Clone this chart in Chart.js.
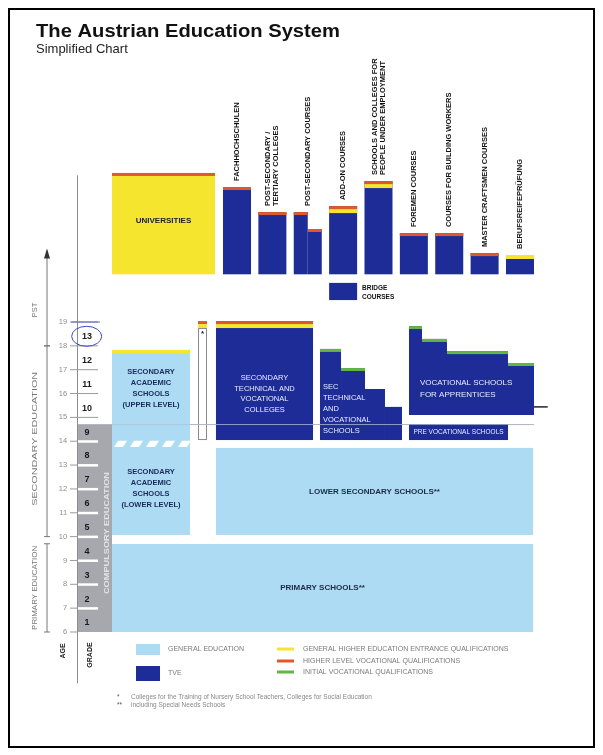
<!DOCTYPE html>
<html>
<head>
<meta charset="utf-8">
<script src="https://cdn.jsdelivr.net/npm/chart.js@4.4.1/dist/chart.umd.min.js"></script>
<style>
  html, body { margin: 0; padding: 0; background: #fff; }
  #wrap { position: relative; width: 603px; height: 755px; }
  #frame { position: absolute; left: 8px; top: 8px; width: 583px; height: 736px; border: 2px solid #000; pointer-events: none; }
  canvas { position: absolute; left: 0; top: 0; }
</style>
</head>
<body>
<div id="wrap">
  <canvas id="edu" width="603" height="755"></canvas>
  <div id="frame"></div>
</div>
<script>
// ---- data (ages; above 19 the age scale just carries on for PST) ----
const ageTicks = [6, 7, 8, 9, 10, 11, 12, 13, 14, 15, 16, 17, 18, 19];
const gradeLabels = ['1', '2', '3', '4', '5', '6', '7', '8', '9', '10', '11', '12', '13'];
const gradeStartAge = [6, 7, 8, 9, 10, 11, 12, 13, 14, 15, 16, 17, 18];
const compulsoryAges = [6, 14.7];
const stageNames = ['PST', 'SECONDARY EDUCATION', 'PRIMARY EDUCATION'];
const stageAges = [[18, 22], [10, 18], [6, 9.7]];

const pstNames = [
  ['FACHHOCHSCHULEN'],
  ['POST-SECONDARY /', 'TERTIARY COLLEGES'],
  ['POST-SECONDARY COURSES'],
  ['ADD-ON COURSES'],
  ['SCHOOLS AND COLLEGES FOR', 'PEOPLE UNDER EMPLOYMENT'],
  ['FOREMEN COURSES'],
  ['COURSES FOR BUILDING WORKERS'],
  ['MASTER CRAFTSMEN COURSES'],
  ['BERUFSREIFEPRÜFUNG']
];
const pstTop = [24.66, 23.61, 23.61, 23.86, 24.91, 22.73, 22.73, 21.89, 21.81];
const pstSplitTop = [null, null, 22.9, null, null, null, null, null, null];
const pstQuals = [['HL'], ['HL'], ['HL'], ['HL', 'GH'], ['HL', 'GH'], ['HL'], ['HL'], ['HL'], ['GH']];
const pstBase = 21.0;
const universityAges = [21.0, 25.25];
const bridgeAges = [19.92, 20.64];

const academicAges = [10.07, 17.83];
const academicBreak = [13.76, 14.02];
const nurseryAges = [14.05, 19.04];
const tveCollegeAges = [14.05, 19.04];
const tveSchoolTops = [17.87, 17.07, 16.19, 15.44];
const tveSchoolGreen = [true, true, false, false];
const tveSchoolBase = 14.05;
const apprenticeTops = [18.83, 18.29, 17.78, 17.28];
const apprenticeBase = 15.1;
const preVocAges = [14.05, 14.72];
const lowerSecAges = [10.07, 13.72];
const primaryAges = [6.0, 9.69];

const legendBoxes = ['GENERAL EDUCATION', 'TVE'];
const legendLines = ['GENERAL HIGHER EDUCATION ENTRANCE QUALIFICATIONS', 'HIGHER LEVEL VOCATIONAL QUALIFICATIONS', 'INITIAL VOCATIONAL QUALIFICATIONS'];
const footnotes = [['*', 'Colleges for the Training of Nursery School Teachers, Colleges for Social Education'], ['**', 'including Special Needs Schools']];

// ---- layout & style ----
const TVE = '#1e2c98', GEN = '#acdbf3', YEL = '#f6e52f', ORG = '#df5a2a', GRN = '#62b646', GREY = '#a7a7ae';
const QUAL = { GH: [YEL, 4], HL: [ORG, 3], IV: [GRN, 3] };
const SANS = '"Liberation Sans", Arial, sans-serif';
// x is in lane units, 0 = grade column edge, 100 = right edge of the scheme
const col = {
  grade: [0, 7.46], gradeGap: 4.4, comp: [4.82, 7.46],
  uni: [7.46, 30.04], pst0: 31.8, pstStep: 7.757, pstW: 6.14,
  academic: [7.46, 24.56], nursery: [26.32, 28.29], tveCollege: [30.26, 51.54],
  tveSchool: [53.07, 57.68, 62.94, 67.32, 71.05],
  apprentice: [72.59, 75.44, 80.92, 94.3, 100],
  preVoc: [72.59, 94.3], lowerSec: [30.26, 99.8], primary: [7.46, 99.8]
};

function txt(ctx, s, x, y, font, color, align, base, rot, fitW) {
  ctx.save();
  ctx.translate(x, y);
  if (rot) ctx.rotate(rot);
  ctx.font = font;
  ctx.fillStyle = color;
  ctx.textAlign = align || 'left';
  ctx.textBaseline = base || 'middle';
  if (fitW) ctx.scale(fitW / ctx.measureText(s).width, 1);
  ctx.fillText(s, 0, 0);
  ctx.restore();
}

const schemePlugin = {
  id: 'scheme',
  afterDraw(chart) {
    const ctx = chart.ctx;
    const X = v => chart.scales.x.getPixelForValue(v);
    const Y = v => chart.scales.y.getPixelForValue(v);
    const box = (u0, u1, a0, a1, c) => { ctx.fillStyle = c; ctx.fillRect(X(u0), Y(a1), X(u1) - X(u0), Y(a0) - Y(a1)); };
    const quals = (u0, u1, aTop, list) => {
      let y = Y(aTop);
      list.forEach(q => { ctx.fillStyle = QUAL[q][0]; ctx.fillRect(X(u0), y, X(u1) - X(u0), QUAL[q][1]); y += QUAL[q][1]; });
    };
    const hline = (u0, u1, a, c, w) => { ctx.strokeStyle = c; ctx.lineWidth = w || 1; ctx.beginPath(); ctx.moveTo(X(u0), Y(a)); ctx.lineTo(X(u1), Y(a)); ctx.stroke(); };

    // title
    txt(ctx, 'The Austrian Education System', 36, 37, 'bold 18px ' + SANS, '#111', 'left', 'alphabetic', 0, 304);
    txt(ctx, 'Simplified Chart', 36, 53, '13px ' + SANS, '#222', 'left', 'alphabetic');

    // axis line
    ctx.strokeStyle = '#8c8c8c'; ctx.lineWidth = 1;
    ctx.beginPath(); ctx.moveTo(X(0) - 0.5, Y(25.15)); ctx.lineTo(X(0) - 0.5, Y(3.85)); ctx.stroke();

    // grade column with compulsory education strip
    box(col.grade[0], col.grade[1], compulsoryAges[0], compulsoryAges[1], GREY);
    ageTicks.forEach(a => {
      if (a > compulsoryAges[0] && a < compulsoryAges[1]) {
        ctx.fillStyle = '#fff';
        ctx.fillRect(X(col.grade[0]), Y(a) - 1, X(col.gradeGap) - X(col.grade[0]), 2.5);
        hline(-1.75, 0, a, '#9a9a9a');
      } else if (a >= 15) {
        hline(-1.75, col.gradeGap, a, '#9a9a9a');
      } else {
        hline(-1.75, 0, a, '#9a9a9a');
      }
      txt(ctx, String(a), X(-2.4), Y(a), '7.5px ' + SANS, '#8d8d8d', 'right', 'middle');
    });
    gradeLabels.forEach((g, i) => {
      txt(ctx, g, X(1.97), Y(gradeStartAge[i] + 0.38), 'bold 9px ' + SANS, '#1a1a1a', 'center', 'middle');
    });
    txt(ctx, 'COMPULSORY EDUCATION', X((col.comp[0] + col.comp[1]) / 2) + 1, Y(10.15), 'bold 8px ' + SANS, '#e2e2e6', 'center', 'middle', -Math.PI / 2, 122);
    hline(0, 100, compulsoryAges[1], '#9ea3ad');

    // handwritten circle round grade 13
    ctx.strokeStyle = '#3b48c4'; ctx.lineWidth = 1;
    ctx.beginPath(); ctx.ellipse(X(1.9), Y(18.4), 15, 10, 0, 0, Math.PI * 2); ctx.stroke();
    hline(-1.5, 4.8, 19, '#5a64cc');

    // stage brackets
    const bx = 47, lx = 35;
    stageAges.forEach((r, i) => {
      ctx.strokeStyle = '#777'; ctx.lineWidth = 1;
      ctx.beginPath(); ctx.moveTo(bx, Y(r[0])); ctx.lineTo(bx, Y(r[1])); ctx.stroke();
      if (i === 0) {
        ctx.fillStyle = '#333';
        ctx.beginPath(); ctx.moveTo(bx, Y(r[1]) - 2); ctx.lineTo(bx - 3, Y(r[1]) + 8); ctx.lineTo(bx + 3, Y(r[1]) + 8); ctx.closePath(); ctx.fill();
        ctx.beginPath(); ctx.moveTo(bx - 3, Y(r[0])); ctx.lineTo(bx + 3, Y(r[0])); ctx.stroke();
      } else {
        ctx.beginPath(); ctx.moveTo(bx - 3, Y(r[0])); ctx.lineTo(bx + 3, Y(r[0])); ctx.moveTo(bx - 3, Y(r[1])); ctx.lineTo(bx + 3, Y(r[1])); ctx.stroke();
      }
    });
    txt(ctx, stageNames[0], lx, Y(19.5), '7.5px ' + SANS, '#777', 'center', 'middle', -Math.PI / 2);
    txt(ctx, stageNames[1], lx, Y(14.1), '7.5px ' + SANS, '#777', 'center', 'middle', -Math.PI / 2, 134);
    txt(ctx, stageNames[2], lx, Y(7.85), '7.5px ' + SANS, '#777', 'center', 'middle', -Math.PI / 2, 84);
    txt(ctx, 'AGE', 63, 651, 'bold 7px ' + SANS, '#222', 'center', 'middle', -Math.PI / 2);
    txt(ctx, 'GRADE', 90, 655, 'bold 7px ' + SANS, '#222', 'center', 'middle', -Math.PI / 2);

    // primary and lower secondary
    box(col.primary[0], col.primary[1], primaryAges[0], primaryAges[1], GEN);
    txt(ctx, 'PRIMARY SCHOOLS**', X((col.primary[0] + col.primary[1]) / 2), Y((primaryAges[0] + primaryAges[1]) / 2), 'bold 8px ' + SANS, '#1c2a45', 'center', 'middle');
    box(col.lowerSec[0], col.lowerSec[1], lowerSecAges[0], lowerSecAges[1], GEN);
    txt(ctx, 'LOWER SECONDARY SCHOOLS**', X((col.lowerSec[0] + col.lowerSec[1]) / 2), Y((lowerSecAges[0] + lowerSecAges[1]) / 2), 'bold 8px ' + SANS, '#1c2a45', 'center', 'middle');

    // secondary academic schools
    box(col.academic[0], col.academic[1], academicAges[0], academicAges[1], GEN);
    quals(col.academic[0], col.academic[1], academicAges[1], ['GH']);
    ctx.fillStyle = '#fff';
    const sy0 = Y(academicBreak[0]), sy1 = Y(academicBreak[1]);
    for (let sx = X(col.academic[0]) + 2; sx < X(col.academic[1]) - 8; sx += 16) {
      ctx.beginPath(); ctx.moveTo(sx, sy0); ctx.lineTo(sx + 9, sy0); ctx.lineTo(sx + 13, sy1); ctx.lineTo(sx + 4, sy1); ctx.closePath(); ctx.fill();
    }
    const acx = X((col.academic[0] + col.academic[1]) / 2);
    ['SECONDARY', 'ACADEMIC', 'SCHOOLS', '(UPPER LEVEL)'].forEach((s, i) => txt(ctx, s, acx, Y(16.21) + (i - 1.5) * 11, 'bold 7.5px ' + SANS, '#1b2a5c', 'center', 'middle'));
    ['SECONDARY', 'ACADEMIC', 'SCHOOLS', '(LOWER LEVEL)'].forEach((s, i) => txt(ctx, s, acx, Y(12.02) + (i - 1.5) * 11, 'bold 7.5px ' + SANS, '#1b2a5c', 'center', 'middle'));

    // nursery / social education colleges
    quals(col.nursery[0], col.nursery[1], nurseryAges[1], ['HL', 'GH']);
    ctx.strokeStyle = '#8a8a8a'; ctx.lineWidth = 1;
    ctx.strokeRect(X(col.nursery[0]) + 0.5, Y(nurseryAges[1]) + 7.5, X(col.nursery[1]) - X(col.nursery[0]) - 1, Y(nurseryAges[0]) - Y(nurseryAges[1]) - 8);
    txt(ctx, '*', X((col.nursery[0] + col.nursery[1]) / 2), Y(nurseryAges[1]) + 13, 'bold 8px ' + SANS, '#222', 'center', 'middle');

    // secondary technical and vocational colleges
    box(col.tveCollege[0], col.tveCollege[1], tveCollegeAges[0], tveCollegeAges[1], TVE);
    quals(col.tveCollege[0], col.tveCollege[1], tveCollegeAges[1], ['HL', 'GH']);
    const tcx = X((col.tveCollege[0] + col.tveCollege[1]) / 2);
    ['SECONDARY', 'TECHNICAL AND', 'VOCATIONAL', 'COLLEGES'].forEach((s, i) => txt(ctx, s, tcx, Y(15.98) + (i - 1.5) * 10.5, '7.5px ' + SANS, '#e8ecff', 'center', 'middle'));

    // secondary technical and vocational schools (stepped)
    tveSchoolTops.forEach((t, i) => {
      box(col.tveSchool[i], col.tveSchool[i + 1], tveSchoolBase, t, TVE);
      if (tveSchoolGreen[i]) quals(col.tveSchool[i], col.tveSchool[i + 1], t, ['IV']);
    });
    ['SEC', 'TECHNICAL', 'AND', 'VOCATIONAL', 'SCHOOLS'].forEach((s, i) => txt(ctx, s, X(col.tveSchool[0]) + 3, Y(15.35) + (i - 2) * 11, '7.5px ' + SANS, '#e8ecff', 'left', 'middle'));

    // vocational schools for apprentices (stepped)
    apprenticeTops.forEach((t, i) => {
      box(col.apprentice[i], col.apprentice[i + 1], apprenticeBase, t, TVE);
      quals(col.apprentice[i], col.apprentice[i + 1], t, ['IV']);
    });
    ['VOCATIONAL SCHOOLS', 'FOR APPRENTICES'].forEach((s, i) => txt(ctx, s, X(col.apprentice[0]) + 11, Y(16.19) + (i - 0.5) * 12, '8px ' + SANS, '#e8ecff', 'left', 'middle'));
    hline(100, 103, 15.44, '#222', 1.5);

    // pre-vocational schools
    box(col.preVoc[0], col.preVoc[1], preVocAges[0], preVocAges[1], TVE);
    txt(ctx, 'PRE VOCATIONAL SCHOOLS', X((col.preVoc[0] + col.preVoc[1]) / 2), Y((preVocAges[0] + preVocAges[1]) / 2), '6.5px ' + SANS, '#e8ecff', 'center', 'middle');

    // the compulsory line runs over the boxes
    ctx.globalAlpha = 0.75;
    hline(0, 100, compulsoryAges[1], '#b8c0d0');
    ctx.globalAlpha = 1;

    // post-secondary: universities
    box(col.uni[0], col.uni[1], universityAges[0], universityAges[1], YEL);
    quals(col.uni[0], col.uni[1], universityAges[1], ['HL']);
    txt(ctx, 'UNIVERSITIES', X((col.uni[0] + col.uni[1]) / 2), Y(23.24), 'bold 8px ' + SANS, '#222', 'center', 'middle');

    // post-secondary TVE columns
    pstTop.forEach((t, i) => {
      const u0 = col.pst0 + i * col.pstStep, u1 = u0 + col.pstW;
      if (pstSplitTop[i] != null) {
        const um = (u0 + u1) / 2;
        box(u0, um, pstBase, t, TVE); quals(u0, um, t, pstQuals[i]);
        box(um, u1, pstBase, pstSplitTop[i], TVE); quals(um, u1, pstSplitTop[i], pstQuals[i]);
      } else {
        box(u0, u1, pstBase, t, TVE); quals(u0, u1, t, pstQuals[i]);
      }
      const cx = X((u0 + u1) / 2), by = Y(t) - 6, n = pstNames[i].length;
      pstNames[i].forEach((s, j) => txt(ctx, s, cx + (j - (n - 1) / 2) * 8, by, 'bold 7.5px ' + SANS, '#111', 'left', 'middle', -Math.PI / 2));
    });

    // bridge courses
    const bu0 = col.pst0 + 3 * col.pstStep;
    box(bu0, bu0 + col.pstW, bridgeAges[0], bridgeAges[1], TVE);
    txt(ctx, 'BRIDGE', X(bu0 + col.pstW) + 5, Y(bridgeAges[1]) + 5, 'bold 6.5px ' + SANS, '#111', 'left', 'middle');
    txt(ctx, 'COURSES', X(bu0 + col.pstW) + 5, Y(bridgeAges[1]) + 14, 'bold 6.5px ' + SANS, '#111', 'left', 'middle');

    // legend
    const lgx = 136, lgy = [644, 666];
    [GEN, TVE].forEach((c, i) => {
      ctx.fillStyle = c; ctx.fillRect(lgx, lgy[i], 24, i ? 15 : 11);
      txt(ctx, legendBoxes[i], lgx + 32, lgy[i] + (i ? 7 : 5), '7px ' + SANS, '#7a7a7a', 'left', 'middle');
    });
    [YEL, ORG, GRN].forEach((c, i) => {
      const ly = [649, 661, 672][i];
      ctx.fillStyle = c; ctx.fillRect(277, ly - 1.5, 17, 3);
      txt(ctx, legendLines[i], 303, ly, '7px ' + SANS, '#7a7a7a', 'left', 'middle');
    });
    footnotes.forEach((f, i) => {
      txt(ctx, f[0], 117, 697 + i * 8.5, '6.5px ' + SANS, '#555', 'left', 'middle');
      txt(ctx, f[1], 131, 697 + i * 8.5, '6.5px ' + SANS, '#888', 'left', 'middle');
    });
  }
};

new Chart(document.getElementById('edu').getContext('2d'), {
  type: 'scatter',
  data: { datasets: [{ data: [] }] },
  options: {
    responsive: false,
    animation: false,
    events: [],
    layout: { padding: { left: 78, right: 69, top: 322, bottom: 123 } },
    scales: {
      x: { type: 'linear', min: 0, max: 100, display: false },
      y: { type: 'linear', min: 6, max: 19, display: false }
    },
    plugins: { legend: { display: false }, tooltip: { enabled: false } }
  },
  plugins: [schemePlugin]
});
</script>
</body>
</html>
